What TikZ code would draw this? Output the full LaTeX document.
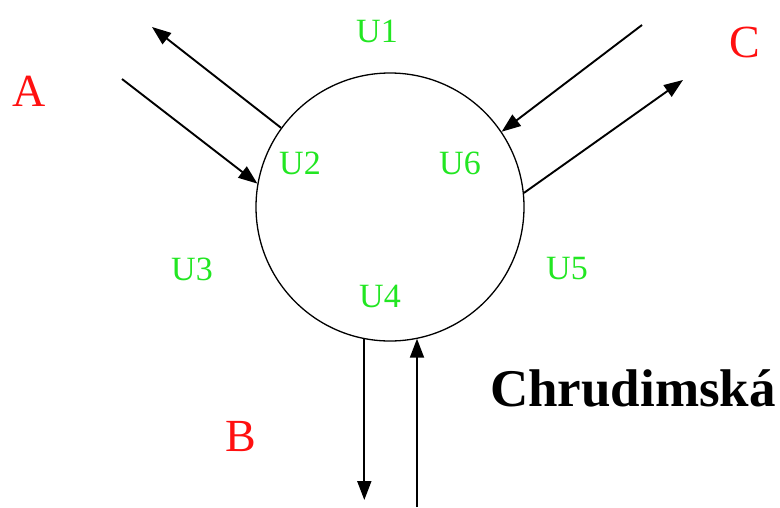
\documentclass[tikz,border=0pt]{standalone}
\usepackage{fontspec}
\setmainfont{Liberation Serif}
\usepackage{tikz}
\usetikzlibrary{arrows.meta}
\definecolor{lblgreen}{HTML}{22E622}
\definecolor{lblred}{HTML}{FF1010}
\tikzset{arr/.style={-{Triangle[length=19pt,width=14pt]},line width=1.9pt,draw=black},
  ulab/.style={text=lblgreen,font=\fontsize{34}{34}\selectfont,inner sep=0pt},
  dirlab/.style={text=lblred,font=\fontsize{46}{46}\selectfont,inner sep=0pt},
  junc/.style={circle,draw,line width=1.3pt,minimum size=268pt,inner sep=0pt}}
\begin{document}
\begin{tikzpicture}[x=1pt,y=-1pt]
\useasboundingbox (0,0) rectangle (780,507);
\node[junc] (kr) at (390,207) {};
% volne konce ramen
\coordinate (aOut) at (152,27);
\coordinate (aIn) at (122,79);
\coordinate (cIn) at (642,25);
\coordinate (cOut) at (683,80);
\coordinate (bOut) at (363,500);
\coordinate (bIn) at (417,507);
\draw[arr] (kr.144.5) -- (aOut);
\draw[arr] (aIn) -- (kr.170.6);
\draw[arr] (cIn) -- (kr.34);
\draw[arr] (kr.6) -- (cOut);
\draw[arr] (kr.-101.6) -- (kr.-101.6 |- bOut);
\draw[arr] (bIn) -- (bIn |- kr.-78.4);
\foreach \n/\x/\y in {U1/377/31,U2/300/163,U6/460/163,U3/192/269,U5/567/269,U4/380/296}{
\node[ulab] (\n) at (\x,\y) {\n};
}
\node[dirlab] (A) at (29,91) {A};
\node[dirlab] (B) at (241,436) {B};
\node[dirlab] (C) at (745,42) {C};
\node[font=\bfseries\fontsize{53}{53}\selectfont,inner sep=0pt] (ulice) at (633,388) {Chrudimská};
\end{tikzpicture}
\end{document}
